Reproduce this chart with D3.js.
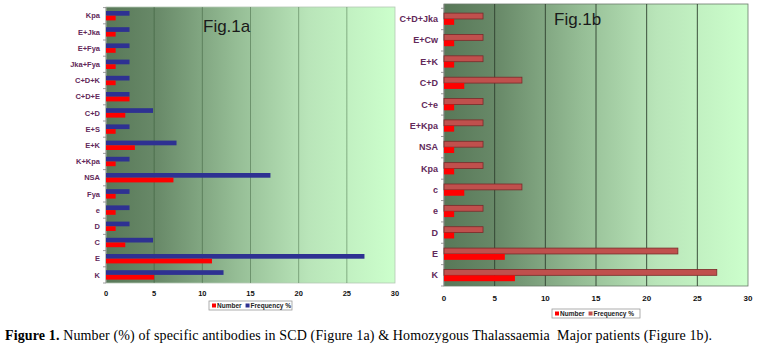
<!DOCTYPE html>
<html><head><meta charset="utf-8">
<script src="https://cdn.jsdelivr.net/npm/d3@7"></script>
<style>body{margin:0;background:#fff}svg{display:block}</style>
</head><body>
<svg id="c" width="761" height="351"></svg>
<script>
// ---- data ----
const catsA = ["Kpa","E+Jka","E+Fya","Jka+Fya","C+D+K","C+D+E","C+D","E+S","E+K","K+Kpa","NSA","Fya","e","D","C","E","K"];
const numberA = [1,1,1,1,1,2.44,2,1,3,1,7,1,1,1,2,11,5];
const freqA = [2.44,2.44,2.44,2.44,2.44,2.44,4.88,2.44,7.32,2.44,17.07,2.44,2.44,2.44,4.88,26.83,12.2];
const catsB = ["C+D+Jka","E+Cw","E+K","C+D","C+e","E+Kpa","NSA","Kpa","c","e","D","E","K"];
const numberB = [1,1,1,2,1,1,1,1,2,1,1,6,7];
const freqB = [3.85,3.85,3.85,7.69,3.85,3.85,3.85,3.85,7.69,3.85,3.85,23.08,26.92];
const xTicks = [0,5,10,15,20,25,30];
const legendLabels = ["Number","Frequency %"];

const svg = d3.select("#c");
const defs = svg.append("defs");
const grad = defs.append("linearGradient").attr("id","bg").attr("x1","0").attr("x2","1").attr("y1","0").attr("y2","0");
[[0,"#587858"],[0.18,"#698a69"],[0.45,"#95bd95"],[0.7,"#b9e5b9"],[1,"#ccffcc"]].forEach(s=>grad.append("stop").attr("offset",s[0]).attr("stop-color",s[1]));

function panel(o){
  const g = svg.append("g");
  const x = d3.scaleLinear().domain([0,30]).range([o.x0,o.x1]);
  const y = d3.scaleBand().domain(o.cats).range([o.yb0,o.yb1]).paddingInner(o.pi).paddingOuter(o.pi/2);
  g.append("rect").attr("x",o.x0).attr("y",o.top).attr("width",o.x1-o.x0).attr("height",o.bottom-o.top)
    .attr("fill","url(#bg)").attr("stroke",o.frame).attr("stroke-width",0.8);
  g.selectAll(".gl").data(xTicks.slice(1,-1)).join("line")
    .attr("x1",d=>x(d)).attr("x2",d=>x(d)).attr("y1",o.top).attr("y2",o.bottom)
    .attr("stroke",o.grid).attr("stroke-width",0.9);
  g.append("line").attr("x1",o.x0).attr("x2",o.x0).attr("y1",o.top).attr("y2",o.bottom).attr("stroke","#888").attr("stroke-width",0.8);
  const step = y.step();
  g.selectAll(".tk").data(d3.range(o.cats.length+1)).join("line")
    .attr("x1",o.x0-3).attr("x2",o.x0).attr("y1",i=>o.yb0+i*step).attr("y2",i=>o.yb0+i*step)
    .attr("stroke","#888").attr("stroke-width",0.8);
  const bw = y.bandwidth()/2;
  g.selectAll(".f").data(o.cats).join("rect")
    .attr("x",x(0)).attr("y",d=>y(d)).attr("height",bw)
    .attr("width",(d,i)=>x(o.freq[i])-x(0)).attr("fill",o.fcol).attr("stroke",o.fstroke||"none").attr("stroke-width",0.8);
  g.selectAll(".n").data(o.cats).join("rect")
    .attr("x",x(0)).attr("y",d=>y(d)+bw).attr("height",bw)
    .attr("width",(d,i)=>x(o.num[i])-x(0)).attr("fill","#ff0000");
  g.selectAll(".cl").data(o.cats).join("text")
    .attr("x",o.x0-6).attr("y",d=>y(d)+y.bandwidth()/2).attr("dy","0.35em")
    .attr("text-anchor","end").attr("font-family","Liberation Sans, Arial, sans-serif")
    .attr("font-weight","bold").attr("font-size",o.lfs).attr("fill","#62295a").text(d=>d);
  g.selectAll(".xt").data(xTicks).join("text")
    .attr("x",d=>x(d)).attr("y",o.tickY).attr("dy","0.35em").attr("text-anchor","middle")
    .attr("font-family","Liberation Sans, Arial, sans-serif").attr("font-weight","bold")
    .attr("font-size",o.tfs).attr("fill","#111").text(d=>d);
  g.append("text").attr("x",o.titleX).attr("y",o.titleY).attr("font-family","Liberation Sans, Arial, sans-serif")
    .attr("font-size",17).attr("fill","#1a1a1a").text(o.title);
  const lg = g.append("g").attr("transform",`translate(${o.lx},${o.ly})`);
  lg.append("rect").attr("width",o.lw).attr("height",9).attr("fill","#fff").attr("stroke","#999").attr("stroke-width",0.8);
  const cols = ["#ff0000",o.fcol];
  let cx = 3;
  legendLabels.forEach((t,i)=>{
    lg.append("rect").attr("x",cx).attr("y",2.5).attr("width",4).attr("height",4).attr("fill",cols[i]);
    const tx = lg.append("text").attr("x",cx+5).attr("y",4.5).attr("dy","0.35em")
      .attr("font-family","Liberation Sans, Arial, sans-serif").attr("font-weight","bold")
      .attr("font-size",6.5).attr("fill","#222").text(t);
    cx += 5 + tx.node().getComputedTextLength() + 4;
  });
}

panel({cats:catsA,num:numberA,freq:freqA,x0:106,x1:395,top:7,bottom:283,yb0:7.6,yb1:283,pi:0.42,
  frame:"#b5c9b5",grid:"rgba(40,75,40,0.45)",fcol:"#2e3192",lfs:7.5,tfs:7.5,tickY:293,
  title:"Fig.1a",titleX:203,titleY:32,lx:209,ly:301,lw:83});
panel({cats:catsB,num:numberB,freq:freqB,x0:444,x1:748,top:4,bottom:286,yb0:8.3,yb1:286,pi:0.45,
  frame:"#6a7a6a",grid:"#2f3f2f",fcol:"#c0504d",fstroke:"#7a2a2a",lfs:9,tfs:8,tickY:298,
  title:"Fig.1b",titleX:554,titleY:25,lx:552,ly:309,lw:88});

const cap = svg.append("text").attr("x",5).attr("y",340)
  .attr("font-family","Liberation Serif, Times New Roman, serif").attr("font-size",14).attr("fill","#000")
  .attr("textLength",707).attr("lengthAdjust","spacing");
cap.append("tspan").attr("font-weight","bold").text("Figure 1.");
cap.append("tspan").text(" Number (%) of specific antibodies in SCD (Figure 1a) & Homozygous Thalassaemia  Major patients (Figure 1b).")
  .attr("xml:space","preserve");
</script>
</body></html>
